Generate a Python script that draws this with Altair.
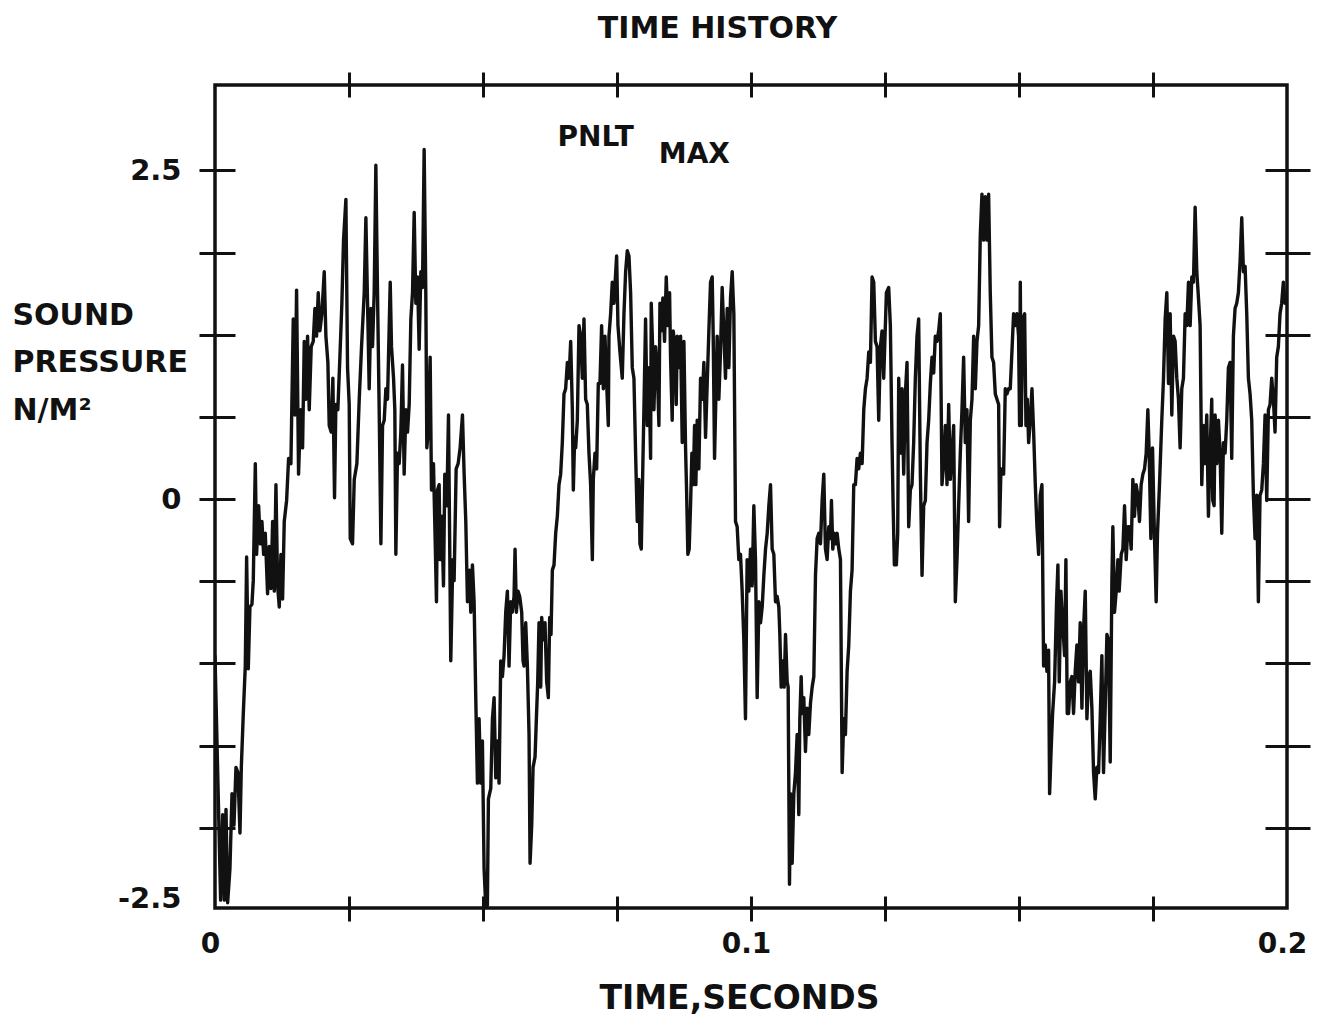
import altair as alt
import pandas as pd

# ---- signal: time in milliseconds, sound pressure in N/m^2 ----
t_seg1 = [0.00, 1.05, 1.43, 1.74, 2.05, 2.36, 2.79, 3.17, 3.54, 3.91,
          4.28, 4.66, 4.91, 5.28, 5.65, 5.90, 6.21, 6.52, 6.89, 7.14,
          7.52, 7.76, 8.14, 8.45, 8.76, 9.07, 9.38, 9.81, 10.12, 10.44,
          10.75, 11.06, 11.37, 11.68, 11.99, 12.30, 12.61, 12.92, 13.36, 13.73,
          14.16, 14.60, 14.91, 15.22, 15.59, 15.97, 16.34, 16.65, 16.96, 17.27,
          17.58, 17.95, 18.33, 18.64, 18.95, 19.26, 19.57, 19.94, 20.38, 20.69,
          21.06, 21.31, 21.68, 21.99, 22.30, 22.55, 22.92, 23.30, 23.67, 23.98]
p_seg1 = [-1.19, -3.05, -2.40, -3.05, -2.36, -3.07, -2.81, -2.24, -2.48, -2.04,
          -2.08, -2.54, -2.04, -1.63, -1.27, -0.44, -1.29, -0.82, -0.80, -0.62,
          0.27, -0.42, -0.05, -0.34, -0.17, -0.42, -0.26, -0.72, -0.36, -0.68,
          -0.17, -0.70, 0.11, -0.66, -0.82, -0.42, -0.76, -0.17, -0.01, 0.31,
          0.27, 1.37, 0.64, 1.59, 0.19, 0.68, 0.39, 1.20, 0.76, 1.24,
          0.68, 1.16, 1.20, 1.45, 1.24, 1.57, 1.28, 1.41, 1.73, 1.24,
          1.04, 0.56, 0.51, 0.92, 0.01, 0.72, 0.68, 1.08, 1.49, 1.97]

t_seg2 = [24.42, 24.73, 25.04, 25.23, 25.66, 25.98, 26.47, 26.91, 27.34, 27.84,
          28.15, 28.46, 28.77, 29.08, 29.39, 29.70, 30.01, 30.32, 30.63, 30.95,
          31.26, 31.57, 31.88, 32.19, 32.69, 32.93, 33.31, 33.55, 33.74, 34.05,
          34.36, 34.67, 34.98, 35.29, 35.61, 35.92, 36.23, 36.54, 36.85, 37.16,
          37.47, 37.78, 38.09, 38.40, 38.71, 39.02, 39.33, 39.52, 39.77, 40.14,
          40.39, 40.76, 41.07, 41.32, 41.51, 41.82, 42.00, 42.31, 42.63, 42.87,
          43.25, 43.56, 43.99, 44.37, 44.61, 44.99, 45.36, 45.73, 46.17, 46.48,
          46.79, 47.10, 47.47, 47.72, 48.03, 48.34, 48.65, 48.96, 49.27]
p_seg2 = [2.28, 1.00, 0.72, -0.30, -0.34, 0.15, 0.27, 0.76, 1.16, 1.57,
          2.14, 1.49, 0.84, 1.45, 1.16, 1.57, 2.54, 1.57, 0.68, -0.34,
          0.56, 0.60, 0.84, 0.76, 1.65, 1.16, 0.92, 0.68, -0.42, 0.35,
          0.27, 0.51, 1.02, 0.19, 0.68, 0.51, 0.72, 1.37, 1.57, 2.18,
          1.49, 1.69, 1.14, 1.73, 1.61, 2.66, 1.57, 0.39, 0.51, 1.08,
          0.07, 0.27, -0.30, -0.78, 0.07, 0.11, -0.46, -0.13, -0.66, 0.19,
          -0.05, 0.64, -1.23, -0.46, -0.62, 0.23, 0.27, 0.39, 0.64, 0.19,
          -0.17, -0.78, -0.54, -0.86, -0.50, -0.78, -1.51, -2.16, -1.67]

t_seg3 = [49.58, 49.89, 50.20, 50.51, 50.82, 51.01, 51.45, 51.76, 52.07, 52.38,
          52.69, 53.00, 53.31, 53.62, 53.93, 54.24, 54.55, 54.86, 55.17, 55.48,
          55.79, 55.98, 56.23, 56.54, 56.85, 57.22, 57.47, 57.66, 57.97, 58.28,
          58.59, 58.78, 59.09, 59.34, 59.71, 59.96, 60.21, 60.45, 60.77, 60.95,
          61.26, 61.57, 61.88, 62.19, 62.44, 62.69, 62.94, 63.25, 63.56, 63.87,
          64.18, 64.49, 64.80, 65.11, 65.42, 65.74, 66.05, 66.36, 66.67, 66.85,
          67.10, 67.29, 67.60, 67.91, 68.22, 68.53, 68.84, 69.15, 69.46, 69.77,
          70.08, 70.40, 70.58, 70.89, 71.20, 71.51, 71.82, 72.13, 72.45, 72.76,
          73.07, 73.38, 73.50, 73.81, 74.12, 74.43]
p_seg3 = [-2.16, -1.84, -2.81, -3.09, -3.09, -2.28, -2.20, -1.67, -1.51, -2.12,
          -1.84, -2.16, -1.23, -1.35, -1.19, -0.86, -0.70, -1.27, -0.78, -0.86,
          -0.74, -0.38, -0.86, -0.70, -0.74, -0.86, -1.23, -1.27, -0.94, -1.27,
          -1.79, -2.77, -2.48, -2.04, -1.96, -1.67, -1.39, -0.94, -1.43, -0.90,
          -1.07, -0.94, -1.39, -1.51, -0.90, -1.03, -0.54, -0.50, -0.26, -0.13,
          0.11, 0.19, 0.43, 0.80, 0.84, 1.04, 0.92, 1.20, 0.68, 0.07,
          0.47, 0.39, 0.60, 1.32, 1.24, 0.92, 1.37, 0.76, 0.72, 0.35,
          0.11, -0.46, 0.15, 0.35, 0.23, 0.88, 0.88, 1.32, 0.84, 1.24,
          0.88, 0.56, 1.24, 1.41, 1.65, 1.49]

t_seg4 = [74.93, 75.18, 75.55, 75.98, 76.30, 76.61, 76.92, 77.23, 77.54, 77.85,
          78.16, 78.47, 78.78, 79.09, 79.28, 79.53, 79.77, 80.02, 80.33, 80.64,
          80.95, 81.27, 81.39, 81.70, 81.89, 82.20, 82.51, 82.82, 83.01, 83.25,
          83.56, 83.87, 84.19, 84.50, 84.81, 84.99, 85.30, 85.49, 85.80, 86.05,
          86.24, 86.55, 86.86, 87.17, 87.48, 87.79, 87.98, 88.22, 88.47, 88.72,
          88.97, 89.22, 89.47, 89.71, 89.96, 90.27, 90.59, 90.90, 91.21, 91.52,
          91.83, 92.14, 92.45, 92.76, 92.95, 93.20, 93.44, 93.69, 94.00, 94.31,
          94.62, 94.93, 95.24, 95.56, 95.87, 96.18, 96.49, 96.80, 97.11, 97.42,
          97.73, 98.04, 98.35, 98.66, 98.97, 99.28, 99.59]
p_seg4 = [1.85, 1.32, 1.12, 0.92, 1.41, 1.73, 1.89, 1.85, 1.57, 1.00,
          0.92, 0.35, -0.17, 0.15, -0.34, -0.38, 0.15, 0.68, 1.37, 0.56,
          1.00, 0.31, 1.49, 1.08, 0.68, 1.16, 1.00, 0.56, 1.49, 1.28,
          1.53, 1.20, 1.69, 1.32, 1.57, 1.08, 0.60, 1.28, 1.16, 0.72,
          1.24, 1.00, 1.24, 0.43, 1.20, 0.39, 0.07, -0.42, -0.38, -0.05,
          0.35, 0.11, 0.56, 0.11, 0.60, 0.23, 0.92, 0.76, 1.04, 0.47,
          0.88, 1.28, 1.65, 1.69, 1.24, 0.31, 0.76, 1.24, 0.76, 1.12,
          1.61, 1.28, 0.92, 1.45, 1.00, 1.53, 1.73, 1.41, -0.17, -0.21,
          -0.46, -0.42, -0.70, -1.07, -1.67, -0.46, -0.70]

t_seg5 = [99.91, 100.22, 100.53, 100.84, 101.15, 101.47, 101.78, 102.09, 102.40, 102.71,
          103.02, 103.33, 103.64, 103.95, 104.26, 104.57, 104.88, 105.19, 105.38, 105.63,
          105.94, 106.19, 106.44, 106.75, 106.93, 107.18, 107.37, 107.68, 107.99, 108.30,
          108.61, 108.92, 109.11, 109.36, 109.54, 109.85, 110.16, 110.47, 110.78, 111.10,
          111.41, 111.72, 112.03, 112.34, 112.65, 112.96, 113.27, 113.58, 113.89, 114.20,
          114.51, 114.82, 115.01, 115.26, 115.51, 115.76, 116.07, 116.38, 116.69, 117.00,
          117.31, 117.62, 117.93, 118.24, 118.55, 118.86, 119.17, 119.48, 119.79, 120.10,
          120.41, 120.73, 121.04, 121.35, 121.66, 121.97, 122.28, 122.59, 122.90, 123.21,
          123.52, 123.83, 124.14, 124.45, 124.76]
p_seg5 = [-0.38, -0.66, -0.05, -0.46, -1.51, -0.78, -0.94, -0.82, -0.58, -0.38,
          -0.26, -0.05, 0.11, -0.38, -0.42, -0.78, -0.74, -0.82, -1.03, -1.43,
          -1.23, -1.43, -1.03, -1.39, -1.43, -2.93, -2.24, -2.77, -2.24, -2.08,
          -1.79, -2.40, -1.67, -1.35, -1.63, -1.51, -1.92, -1.59, -1.79, -1.55,
          -1.43, -1.35, -0.58, -0.30, -0.26, -0.34, -0.01, 0.19, -0.38, -0.46,
          -0.21, -0.30, -0.01, -0.38, -0.26, -0.34, -0.26, -0.38, -0.46, -2.08,
          -1.67, -1.79, -1.31, -1.11, -0.70, -0.54, 0.11, 0.11, 0.31, 0.23,
          0.35, 0.27, 0.68, 0.84, 0.92, 1.12, 1.04, 1.69, 1.65, 1.20,
          1.16, 0.60, 1.16, 1.28, 0.92]

t_seg6 = [125.26, 125.69, 126.00, 126.31, 126.50, 126.75, 127.12, 127.37, 127.56, 127.87,
          128.18, 128.49, 128.80, 129.11, 129.42, 129.73, 130.04, 130.35, 130.66, 130.97,
          131.28, 131.60, 131.91, 132.22, 132.53, 132.84, 133.15, 133.46, 133.77, 134.08,
          134.39, 134.70, 135.01, 135.32, 135.63, 135.95, 136.26, 136.57, 136.88, 137.19,
          137.50, 137.81, 138.12, 138.43, 138.74, 139.05, 139.36, 139.67, 139.98, 140.29,
          140.60, 140.92, 141.23, 141.54, 141.85, 142.16, 142.47, 142.78, 143.09, 143.40,
          143.71, 144.02, 144.33, 144.64, 144.95, 145.26, 145.58, 145.89, 146.20, 146.38,
          146.63, 146.88, 147.13, 147.44, 147.75, 148.06, 148.37, 148.68, 148.99, 149.30,
          149.61, 149.92, 150.11]
p_seg6 = [1.57, 1.61, 1.32, 0.43, -0.01, -0.50, -0.50, -0.26, 0.92, 0.35,
          0.84, 0.19, 0.80, 1.04, -0.21, 0.07, 0.11, 0.43, 0.92, 1.24,
          1.37, 0.19, -0.58, -0.05, -0.01, 0.43, 0.60, 0.88, 1.08, 0.96,
          1.24, 1.20, 1.28, 1.41, 0.11, 0.27, 0.56, 0.11, 0.72, 0.15,
          0.35, 0.56, -0.78, -0.46, -0.05, 0.35, 0.68, 1.08, 0.43, 0.68,
          -0.17, 0.60, 0.76, 1.24, 0.84, 1.20, 1.32, 2.01, 2.32, 1.97,
          2.30, 1.97, 2.32, 1.57, 1.08, 1.04, 0.80, 0.76, 0.72, -0.21,
          0.23, 0.19, 0.19, 0.84, 0.80, 0.84, 0.84, 1.12, 1.41, 1.32,
          1.41, 1.24, 0.56]

t_seg7 = [150.24, 150.43, 150.68, 151.05, 151.30, 151.55, 151.80, 152.11, 152.42, 152.73,
          153.04, 153.35, 153.66, 153.97, 154.28, 154.59, 154.90, 155.21, 155.52, 155.71,
          156.02, 156.27, 156.64, 157.01, 157.26, 157.51, 157.82, 158.13, 158.51, 158.75,
          159.00, 159.25, 159.56, 159.87, 160.18, 160.49, 160.80, 161.11, 161.42, 161.74,
          162.05, 162.36, 162.67, 162.98, 163.29, 163.60, 163.91, 164.22, 164.53, 164.84,
          165.15, 165.46, 165.77, 166.08, 166.40, 166.71, 167.02, 167.33, 167.51, 167.82,
          168.14, 168.45, 168.69, 169.07, 169.38, 169.69, 170.00, 170.31, 170.62, 170.93,
          171.24, 171.55, 171.86, 172.17, 172.48, 172.79, 173.11, 173.42, 173.73, 174.04,
          174.29, 174.60, 174.91, 175.28]
p_seg7 = [1.65, 0.56, 1.37, 1.41, 0.56, 0.76, 0.43, 0.60, 0.84, 0.51,
          0.11, -0.21, -0.42, 0.03, 0.11, -1.27, -1.11, -1.31, -1.15, -2.24,
          -1.88, -1.63, -1.39, -0.78, -0.50, -1.39, -0.70, -0.94, -1.19, -0.46,
          -1.63, -1.63, -1.39, -1.35, -1.63, -1.31, -1.11, -1.39, -0.94, -1.59,
          -0.98, -0.70, -1.67, -1.35, -1.31, -1.59, -2.08, -2.28, -2.04, -2.08,
          -1.67, -1.19, -2.08, -1.59, -1.03, -1.07, -2.00, -0.62, -0.21, -0.86,
          -0.70, -0.46, -0.70, -0.42, -0.38, -0.05, -0.46, -0.21, -0.21, -0.38,
          0.15, -0.13, 0.11, 0.03, -0.17, 0.11, 0.19, 0.23, 0.35, 0.68,
          0.35, -0.30, 0.39, -0.30]

t_seg8 = [175.59, 175.84, 176.21, 176.64, 176.96, 177.27, 177.58, 177.89, 178.20, 178.51,
          178.82, 179.13, 179.44, 179.75, 180.06, 180.37, 180.68, 181.00, 181.31, 181.62,
          181.93, 182.24, 182.55, 182.86, 183.17, 183.48, 183.79, 184.10, 184.41, 184.72,
          185.03, 185.34, 185.65, 185.96, 186.15, 186.40, 186.59, 186.90, 187.21, 187.52,
          187.83, 188.14, 188.45, 188.76, 189.07, 189.38, 189.69, 190.00, 190.31, 190.62,
          190.93, 191.25, 191.56, 191.87, 192.18, 192.49, 192.80, 193.11, 193.42, 193.73,
          194.04, 194.35, 194.66, 194.97, 195.29, 195.60, 195.91, 196.22, 196.53, 196.84,
          197.15, 197.46, 197.77, 198.08, 198.39, 198.70, 199.01, 199.32, 199.63, 199.94]
p_seg8 = [-0.78, -0.26, 0.11, 0.60, 0.92, 1.37, 1.57, 0.88, 1.41, 0.64,
          1.24, 1.20, 0.92, 0.76, 0.39, 0.84, 0.92, 1.41, 1.32, 1.65,
          1.32, 1.69, 1.65, 2.22, 1.73, 1.53, 1.32, 0.11, 0.56, 0.27,
          0.64, -0.13, 0.35, 0.76, -0.01, -0.05, 0.64, 0.27, 0.60, 0.35,
          -0.26, 0.43, 0.35, 0.60, 1.00, 1.04, 0.31, 1.24, 1.45, 1.49,
          1.57, 1.81, 2.14, 1.73, 1.77, 1.41, 0.92, 0.80, 0.60, 0.03,
          -0.30, 0.03, -0.78, 0.03, 0.07, 0.27, 0.64, -0.01, 0.68, 0.72,
          0.92, 0.76, 0.51, 1.08, 1.16, 1.41, 1.49, 1.65, 1.49, 1.57]

time_ms = t_seg1 + t_seg2 + t_seg3 + t_seg4 + t_seg5 + t_seg6 + t_seg7 + t_seg8
pressure = p_seg1 + p_seg2 + p_seg3 + p_seg4 + p_seg5 + p_seg6 + p_seg7 + p_seg8
assert len(time_ms) == len(pressure)

df = pd.DataFrame({"t": [m / 1000.0 for m in time_ms], "p": pressure})

# ---- axis tick/label values ----
x_tick_values = [0.025, 0.05, 0.075, 0.1, 0.125, 0.15, 0.175]
x_label_values = [0, 0.1, 0.2]
y_tick_values = [-2.5, -1.875, -1.25, -0.625, 0, 0.625, 1.25, 1.875, 2.5]
y_label_values = [2.5, 0, -3.04]   # the "-2.5" label sits at the bottom corner in the original
y_title_lines = ["SOUND", "PRESSURE", "N/M²"]

# ---- text annotations (placed in data units) ----
annot_label = ["PNLT", "MAX"]
annot_t = [0.0639, 0.0828]
annot_p = [2.686, 2.56]
chart_title = "TIME HISTORY"
title_t = 0.09375
title_p = 3.508

FONT = "DejaVu Sans"
INK = "#111111"

xs = alt.Scale(domain=[0, 0.2], nice=False, zero=False)
ys = alt.Scale(domain=[-3.11, 3.15], nice=False, zero=False)


def tick_axis(orient, values, offset, size):
    return alt.Axis(orient=orient, values=values, labels=False, domain=False, grid=False,
                    ticks=True, tickSize=size, tickWidth=3, tickColor=INK,
                    offset=offset, title=None)


line = alt.Chart(df).mark_line(color=INK, strokeWidth=3.4, strokeJoin="round", clip=True).encode(
    x=alt.X("t:Q", scale=xs, axis=tick_axis("bottom", x_tick_values, -12, 25)),
    y=alt.Y("p:Q", scale=ys, axis=tick_axis("left", y_tick_values, -20, 36)),
    order="t:Q",
)

label_layer = alt.Chart(df).mark_point(opacity=0).encode(
    x=alt.X("t:Q", scale=xs, axis=alt.Axis(
        orient="bottom", values=x_label_values,
        labelExpr="datum.value == 0 ? '0' : format(datum.value, '.1f')",
        ticks=False, tickSize=0, domain=False, grid=False,
        labelPadding=22, labelOffset=-5, labelFont=FONT, labelFontSize=28, labelFontWeight="bold",
        labelColor=INK, labelFlush=False, labelOverlap=False,
        title="TIME,SECONDS", titleFont=FONT, titleFontSize=33, titleFontWeight="bold",
        titleColor=INK, titleX=524, titleY=100, titleBaseline="alphabetic", titleAlign="center")),
    y=alt.Y("p:Q", scale=ys, axis=alt.Axis(
        orient="left", values=y_label_values,
        labelExpr="datum.value > 2 ? '2.5' : (datum.value < -3 ? '-2.5' : '0')",
        ticks=False, tickSize=0, domain=False, grid=False,
        labelPadding=34, labelFont=FONT, labelFontSize=29, labelFontWeight="bold",
        labelColor=INK, labelFlush=False, labelOverlap=False,
        title=y_title_lines, titleFont=FONT, titleFontSize=30, titleFontWeight="bold",
        titleColor=INK, titleAngle=0, titleAlign="left", titleBaseline="top",
        titleX=-203, titleY=215, titleLineHeight=47.5)),
)

frame_layer = alt.Chart(df).mark_point(opacity=0).encode(
    x=alt.X("t:Q", scale=xs, axis=tick_axis("top", x_tick_values, -12, 25)),
    y=alt.Y("p:Q", scale=ys, axis=tick_axis("right", y_tick_values, -22, 45)),
)

annot = pd.DataFrame({"t": annot_t, "p": annot_p, "label": annot_label})
notes = alt.Chart(annot).mark_text(
    align="left", baseline="alphabetic", font=FONT, fontSize=28, fontWeight="bold", color=INK
).encode(
    x=alt.X("t:Q", scale=xs, axis=None),
    y=alt.Y("p:Q", scale=ys, axis=None),
    text="label:N",
)

title_df = pd.DataFrame({"t": [title_t], "p": [title_p], "label": [chart_title]})
title_mark = alt.Chart(title_df).mark_text(
    align="center", baseline="alphabetic", font=FONT, fontSize=30, fontWeight="bold", color=INK
).encode(
    x=alt.X("t:Q", scale=xs, axis=None),
    y=alt.Y("p:Q", scale=ys, axis=None),
    text="label:N",
)

chart = alt.layer(line, label_layer, frame_layer, notes, title_mark).resolve_axis(
    x="independent", y="independent"
).properties(
    width=1072,
    height=823,
    autosize=alt.AutoSizeParams(type="none"),
    padding={"left": 207, "top": 77, "right": 25, "bottom": 112},
    background="white",
).configure_view(stroke=INK, strokeWidth=3.5)

chart.save("out.html", embed_options={"renderer": "svg", "actions": False})
